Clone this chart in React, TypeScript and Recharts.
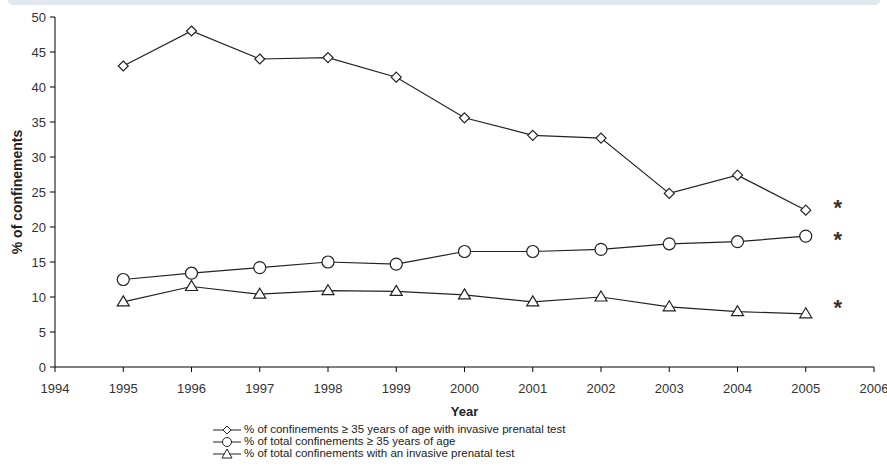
import {
  LineChart,
  Line,
  XAxis,
  YAxis,
  LabelList,
} from "recharts";

const years = [1995, 1996, 1997, 1998, 1999, 2000, 2001, 2002, 2003, 2004, 2005];
const olderWithTest = [43.0, 48.0, 44.0, 44.2, 41.4, 35.6, 33.1, 32.7, 24.8, 27.4, 22.4];
const olderTotal = [12.5, 13.4, 14.2, 15.0, 14.7, 16.5, 16.5, 16.8, 17.6, 17.9, 18.7];
const totalWithTest = [9.3, 11.5, 10.4, 10.9, 10.8, 10.3, 9.3, 10.0, 8.6, 7.9, 7.6];

const xTicks = [1994, 1995, 1996, 1997, 1998, 1999, 2000, 2001, 2002, 2003, 2004, 2005, 2006];
const yTicks = [0, 5, 10, 15, 20, 25, 30, 35, 40, 45, 50];

const legendLabels = [
  "% of confinements  \u2265 35 years of age with invasive prenatal test",
  "% of total confinements \u2265 35 years of age",
  "% of total confinements with an invasive prenatal test",
];

const data = years.map((year, i) => ({
  year,
  a: olderWithTest[i],
  b: olderTotal[i],
  c: totalWithTest[i],
}));

const INK = "#222";
const FONT = "'Liberation Sans', Arial, sans-serif";

const Diamond = (props: any) => {
  const { cx, cy } = props;
  if (cx == null || cy == null) return null;
  const s = 5;
  return (
    <polygon
      points={`${cx},${cy - s} ${cx + s},${cy} ${cx},${cy + s} ${cx - s},${cy}`}
      fill="#fff"
      stroke={INK}
      strokeWidth={1.2}
    />
  );
};

const Triangle = (props: any) => {
  const { cx, cy } = props;
  if (cx == null || cy == null) return null;
  return (
    <polygon
      points={`${cx},${cy - 6} ${cx + 6},${cy + 4} ${cx - 6},${cy + 4}`}
      fill="#fff"
      stroke={INK}
      strokeWidth={1.2}
    />
  );
};

const Circle = (props: any) => {
  const { cx, cy } = props;
  if (cx == null || cy == null) return null;
  return <circle cx={cx} cy={cy} r={6} fill="#fff" stroke={INK} strokeWidth={1.2} />;
};

// asterisk next to the last point of each series
const star = (dy: number) => (props: any) => {
  const { x, y, index } = props;
  if (index !== years.length - 1) return null;
  return (
    <text
      x={x + 32}
      y={y + dy}
      textAnchor="middle"
      fontSize={22}
      fontWeight="bold"
      fill="#333"
      fontFamily={FONT}
    >
      *
    </text>
  );
};

const LegendMarker = ({ kind }: { kind: number }) => {
  const cx = 14;
  const cy = 6;
  return (
    <svg width={28} height={12} style={{ verticalAlign: "middle" }}>
      <line x1={0} y1={cy} x2={28} y2={cy} stroke={INK} strokeWidth={1} />
      {kind === 0 && (
        <polygon
          points={`${cx},${cy - 4} ${cx + 4},${cy} ${cx},${cy + 4} ${cx - 4},${cy}`}
          fill="#fff"
          stroke={INK}
        />
      )}
      {kind === 1 && <circle cx={cx} cy={cy} r={4.5} fill="#fff" stroke={INK} />}
      {kind === 2 && (
        <polygon
          points={`${cx},${cy - 5} ${cx + 5},${cy + 4} ${cx - 5},${cy + 4}`}
          fill="#fff"
          stroke={INK}
        />
      )}
    </svg>
  );
};

export default function App() {
  return (
    <div
      style={{
        position: "absolute",
        left: 0,
        top: 0,
        width: 887,
        height: 472,
        background: "#fff",
        fontFamily: FONT,
        overflow: "hidden",
      }}
    >
      <div
        style={{
          position: "absolute",
          left: 8,
          top: 0,
          width: 872,
          height: 5,
          background: "#e0e7ee",
          borderRadius: "0 0 6px 6px",
        }}
      />
      <LineChart
        width={887}
        height={472}
        data={data}
        margin={{ top: 17, right: 13, bottom: 50, left: 0 }}
      >
        <XAxis
          dataKey="year"
          type="number"
          domain={[1994, 2006]}
          ticks={xTicks}
          interval={0}
          stroke="#000"
          tickLine={{ stroke: "#000" }}
          tickSize={5}
          tick={{ fill: "#333", fontSize: 13 }}
          tickMargin={12}
          height={55}
          label={{
            value: "Year",
            position: "insideBottom",
            offset: 6,
            fontSize: 13,
            fontWeight: "bold",
            fill: "#222",
          }}
        />
        <XAxis
          xAxisId="top"
          orientation="top"
          dataKey="year"
          type="number"
          domain={[1994, 2006]}
          tick={false}
          tickLine={false}
          stroke="#999"
          height={0}
        />
        <YAxis
          domain={[0, 50]}
          ticks={yTicks}
          interval={0}
          stroke="#000"
          tickSize={5}
          tickMargin={4}
          tick={{ fill: "#333", fontSize: 13 }}
          width={55}
          label={{
            value: "% of confinements",
            angle: -90,
            position: "insideLeft",
            offset: 17,
            style: { textAnchor: "middle", fontSize: 14, fontWeight: "bold", fill: "#222" },
          }}
        />
        <YAxis
          yAxisId="right"
          orientation="right"
          domain={[0, 50]}
          tick={false}
          tickLine={false}
          stroke="#999"
          width={0}
        />
        <Line
          dataKey="a"
          stroke={INK}
          strokeWidth={1.2}
          dot={<Diamond />}
          isAnimationActive={false}
        >
          <LabelList dataKey="a" content={star(5)} />
        </Line>
        <Line
          dataKey="b"
          stroke={INK}
          strokeWidth={1.2}
          dot={<Circle />}
          isAnimationActive={false}
        >
          <LabelList dataKey="b" content={star(11)} />
        </Line>
        <Line
          dataKey="c"
          stroke={INK}
          strokeWidth={1.2}
          dot={<Triangle />}
          isAnimationActive={false}
        >
          <LabelList dataKey="c" content={star(1)} />
        </Line>
      </LineChart>
      <div
        style={{
          position: "absolute",
          left: 213,
          top: 423,
          fontSize: 12,
          color: "#222",
          lineHeight: "12px",
        }}
      >
        {legendLabels.map((label, i) => (
          <div key={i} style={{ whiteSpace: "nowrap", height: 12 }}>
            <LegendMarker kind={i} />
            <span style={{ marginLeft: 3, fontSize: 11.5 }}>{label}</span>
          </div>
        ))}
      </div>
    </div>
  );
}
